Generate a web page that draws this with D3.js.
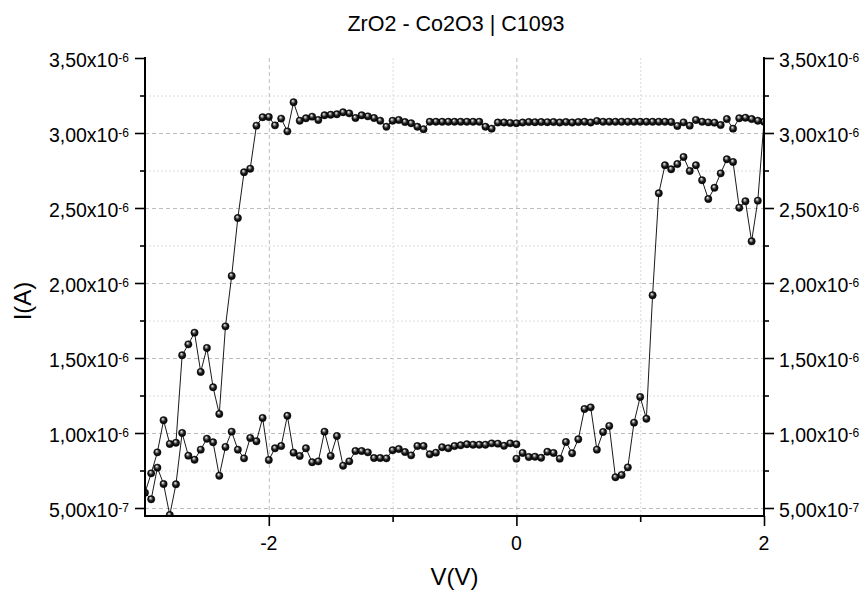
<!DOCTYPE html>
<html>
<head>
<meta charset="utf-8">
<script src="https://cdn.jsdelivr.net/npm/d3@7/dist/d3.min.js"></script>
<style>
  html, body { margin: 0; padding: 0; background: #fff; }
  svg { display: block; font-family: "Liberation Sans", Arial, sans-serif; }
</style>
</head>
<body>
<svg id="chart" width="863" height="590"></svg>
<script>
// ---------------- DATA (current in units of 1e-6 A) ----------------
const titleText = "ZrO2 - Co2O3 | C1093";
const xLabel = "V(V)";
const yLabel = "I(A)";

// Sweep 1: 0 V -> 1.95 V (low-resistance branch rising)
const sweep1V = [0.00,0.05,0.10,0.15,0.20,0.25,0.30,0.35,0.40,0.45,0.50,0.55,0.60,0.65,0.70,0.75,0.80,0.85,0.90,0.95,
                 1.00,1.05,1.10,1.15,1.20,1.25,1.30,1.35,1.40,1.45,1.50,1.55,1.60,1.65,1.70,1.75,1.80,1.85,1.90,1.95];
const sweep1I = [0.829,0.867,0.840,0.842,0.835,0.875,0.867,0.829,0.940,0.865,0.958,1.160,1.171,0.889,1.007,1.047,0.705,0.720,0.771,1.069,
                 1.240,1.095,1.918,2.598,2.785,2.758,2.793,2.840,2.747,2.785,2.685,2.560,2.635,2.731,2.825,2.807,2.502,2.545,2.278,2.549];

// Sweep 2: 2 V -> -3 V (upper branch)
const sweep2V = [2.00,1.95,1.90,1.85,1.80,1.75,1.70,1.65,1.60,1.55,1.50,1.45,1.40,1.35,1.30,1.25,1.20,1.15,1.10,1.05,
                 1.00,0.95,0.90,0.85,0.80,0.75,0.70,0.65,0.60,0.55,0.50,0.45,0.40,0.35,0.30,0.25,0.20,0.15,0.10,0.05,
                 0.00,-0.05,-0.10,-0.15,-0.20,-0.25,-0.30,-0.35,-0.40,-0.45,-0.50,-0.55,-0.60,-0.65,-0.70,-0.75,-0.80,-0.85,-0.90,-0.95,
                 -1.00,-1.05,-1.10,-1.15,-1.20,-1.25,-1.30,-1.35,-1.40,-1.45,-1.50,-1.55,-1.60,-1.65,-1.70,-1.75,-1.80,-1.85,-1.90,-1.95,
                 -2.00,-2.05,-2.10,-2.15,-2.20,-2.25,-2.30,-2.35,-2.40,-2.45,-2.50,-2.55,-2.60,-2.65,-2.70,-2.75,-2.80,-2.85,-2.90,-2.95,-3.00];
const sweep2I = [3.075,3.082,3.093,3.102,3.098,3.029,3.093,3.053,3.069,3.071,3.075,3.087,3.049,3.071,3.047,3.073,3.075,3.075,3.075,3.075,
                 3.075,3.075,3.075,3.075,3.075,3.075,3.075,3.080,3.070,3.075,3.073,3.070,3.073,3.070,3.073,3.072,3.073,3.072,3.073,3.070,
                 3.065,3.067,3.070,3.070,3.029,3.042,3.075,3.075,3.075,3.075,3.075,3.075,3.075,3.075,3.075,3.025,3.042,3.065,3.073,3.087,
                 3.082,3.042,3.082,3.100,3.111,3.118,3.100,3.131,3.138,3.125,3.122,3.118,3.087,3.109,3.098,3.082,3.205,3.011,3.096,3.051,
                 3.107,3.105,3.049,2.762,2.738,2.433,2.047,1.711,1.127,1.305,1.567,1.407,1.669,1.591,1.518,0.935,0.927,1.085,0.871,0.731,0.602];

// Sweep 3: -2.95 V -> 0 V (lower branch)
const sweep3V = [-2.95,-2.90,-2.85,-2.80,-2.75,-2.70,-2.65,-2.60,-2.55,-2.50,-2.45,-2.40,-2.35,-2.30,-2.25,-2.20,-2.15,-2.10,-2.05,-2.00,
                 -1.95,-1.90,-1.85,-1.80,-1.75,-1.70,-1.65,-1.60,-1.55,-1.50,-1.45,-1.40,-1.35,-1.30,-1.25,-1.20,-1.15,-1.10,-1.05,-1.00,
                 -0.95,-0.90,-0.85,-0.80,-0.75,-0.70,-0.65,-0.60,-0.55,-0.50,-0.45,-0.40,-0.35,-0.30,-0.25,-0.20,-0.15,-0.10,-0.05,0.00];
const sweep3I = [0.558,0.769,0.660,0.453,0.658,1.000,0.849,0.822,0.889,0.962,0.938,0.715,0.907,1.009,0.889,0.831,0.967,0.945,1.100,0.820,
                 0.898,0.913,1.115,0.869,0.847,0.898,0.805,0.811,1.009,0.847,0.980,0.782,0.811,0.880,0.880,0.871,0.833,0.833,0.831,0.885,
                 0.893,0.873,0.851,0.913,0.913,0.858,0.869,0.905,0.898,0.913,0.918,0.925,0.922,0.922,0.922,0.931,0.929,0.915,0.931,0.925];

// Axis ticks
const xMajorTicks = [-2, 0, 2];
const xMajorLabels = ["-2", "0", "2"];
const xMinorTicks = [-1, 1];
const yMajorTicks = [0.5, 1.0, 1.5, 2.0, 2.5, 3.0, 3.5];
const yTickMantissa = ["5,00", "1,00", "1,50", "2,00", "2,50", "3,00", "3,50"];
const yTickExponent = ["-7", "-6", "-6", "-6", "-6", "-6", "-6"];
const yMinorTicks = [0.75, 1.25, 1.75, 2.25, 2.75, 3.25];
const xDomain = [-3, 2];
const yDomain = [0.4467, 3.5];

// ---------------- DRAWING ----------------
const svg = d3.select("#chart");
const L = 145, R = 764, T = 58, B = 516;

const x = d3.scaleLinear().domain(xDomain).range([L, R]);
const y = d3.scaleLinear().domain(yDomain).range([B, T]);

const defs = svg.append("defs");
const grad = defs.append("radialGradient").attr("id", "ball")
  .attr("cx", "50%").attr("cy", "50%").attr("r", "55%")
  .attr("fx", "38%").attr("fy", "30%");
grad.append("stop").attr("offset", "0%").attr("stop-color", "#ffffff");
grad.append("stop").attr("offset", "22%").attr("stop-color", "#a0a0a0");
grad.append("stop").attr("offset", "55%").attr("stop-color", "#1a1a1a");
grad.append("stop").attr("offset", "100%").attr("stop-color", "#000000");

defs.append("clipPath").attr("id", "plotclip")
  .append("rect").attr("x", L).attr("y", T - 6).attr("width", R - L).attr("height", B - T + 6);

// Grid lines
const grid = svg.append("g");
grid.selectAll(".hmaj").data(yMajorTicks.filter(v => v < 3.5)).join("line")
  .attr("x1", L).attr("x2", R).attr("y1", d => y(d) + 0.5).attr("y2", d => y(d) + 0.5)
  .attr("stroke", "#bdbdbd").attr("stroke-width", 1).attr("stroke-dasharray", "4,3");
grid.selectAll(".hmin").data(yMinorTicks).join("line")
  .attr("x1", L).attr("x2", R).attr("y1", d => y(d) + 0.5).attr("y2", d => y(d) + 0.5)
  .attr("stroke", "#dcdcdc").attr("stroke-width", 1).attr("stroke-dasharray", "2,2");
grid.selectAll(".vmaj").data(xMajorTicks.filter(v => v > xDomain[0] && v < xDomain[1])).join("line")
  .attr("y1", T).attr("y2", B).attr("x1", d => x(d) + 0.5).attr("x2", d => x(d) + 0.5)
  .attr("stroke", "#bdbdbd").attr("stroke-width", 1).attr("stroke-dasharray", "4,3");
grid.selectAll(".vmin").data(xMinorTicks).join("line")
  .attr("y1", T).attr("y2", B).attr("x1", d => x(d) + 0.5).attr("x2", d => x(d) + 0.5)
  .attr("stroke", "#dcdcdc").attr("stroke-width", 1).attr("stroke-dasharray", "2,2");

// Data
const pts = [];
sweep1V.forEach((v, i) => pts.push({ v, c: sweep1I[i] }));
sweep2V.forEach((v, i) => pts.push({ v, c: sweep2I[i] }));
sweep3V.forEach((v, i) => pts.push({ v, c: sweep3I[i] }));

const plot = svg.append("g").attr("clip-path", "url(#plotclip)");
const line = d3.line().x(d => x(d.v)).y(d => y(d.c));
plot.append("path").datum(pts).attr("d", line)
  .attr("fill", "none").attr("stroke", "#1a1a1a").attr("stroke-width", 1);
plot.selectAll("circle").data(pts).join("circle")
  .attr("cx", d => x(d.v)).attr("cy", d => y(d.c)).attr("r", 3.7)
  .attr("fill", "url(#ball)").attr("stroke", "#000").attr("stroke-width", 0.4);

// Axes
function styleAxis(g) {
  g.select(".domain").remove();
  g.selectAll("line").attr("stroke", "#000").attr("stroke-width", 1.6);
  g.selectAll("text").remove();
}
svg.append("g").attr("transform", `translate(${L},0)`)
  .call(d3.axisLeft(y).tickValues(yMajorTicks).tickSize(10).tickFormat("")).call(styleAxis);
svg.append("g").attr("transform", `translate(${L},0)`)
  .call(d3.axisLeft(y).tickValues(yMinorTicks).tickSize(5).tickFormat("")).call(styleAxis);
svg.append("g").attr("transform", `translate(${R},0)`)
  .call(d3.axisRight(y).tickValues(yMajorTicks).tickSize(10).tickFormat("")).call(styleAxis);
svg.append("g").attr("transform", `translate(${R},0)`)
  .call(d3.axisRight(y).tickValues(yMinorTicks).tickSize(5).tickFormat("")).call(styleAxis);
svg.append("g").attr("transform", `translate(0,${B})`)
  .call(d3.axisBottom(x).tickValues(xMajorTicks).tickSize(10).tickFormat("")).call(styleAxis);
svg.append("g").attr("transform", `translate(0,${B})`)
  .call(d3.axisBottom(x).tickValues(xMinorTicks).tickSize(6).tickFormat("")).call(styleAxis);

// Axis lines
svg.append("line").attr("x1", L).attr("x2", L).attr("y1", T - 1).attr("y2", B + 1)
  .attr("stroke", "#000").attr("stroke-width", 2);
svg.append("line").attr("x1", R).attr("x2", R).attr("y1", T - 1).attr("y2", B + 1)
  .attr("stroke", "#000").attr("stroke-width", 2);
svg.append("line").attr("x1", L - 1).attr("x2", R + 1).attr("y1", B).attr("y2", B)
  .attr("stroke", "#000").attr("stroke-width", 2);

// Y tick labels (left & right)
const fs = 19.5;
function yLabelText(g, anchor, xpos) {
  g.selectAll("text").data(yMajorTicks).join("text")
    .attr("x", xpos).attr("y", d => y(d) + 8.5)
    .attr("text-anchor", anchor).attr("font-size", fs).attr("fill", "#000")
    .each(function (d, i) {
      const t = d3.select(this);
      t.append("tspan").text(yTickMantissa[i] + "x10");
      t.append("tspan").attr("font-size", 12).attr("dy", -5).text(yTickExponent[i]);
    });
}
yLabelText(svg.append("g"), "end", L - 16);
yLabelText(svg.append("g"), "start", R + 15);

// X tick labels
svg.append("g").selectAll("text").data(xMajorTicks).join("text")
  .attr("x", d => x(d)).attr("y", B + 34)
  .attr("text-anchor", "middle").attr("font-size", fs).attr("fill", "#000")
  .text((d, i) => xMajorLabels[i]);

// Axis titles
svg.append("text").attr("x", (L + R) / 2).attr("y", 585)
  .attr("text-anchor", "middle").attr("font-size", 24).attr("fill", "#000").text(xLabel);
svg.append("text").attr("transform", `translate(31,${(T + B) / 2 + 14}) rotate(-90)`)
  .attr("text-anchor", "middle").attr("font-size", 24).attr("fill", "#000").text(yLabel);

// Title
svg.append("text").attr("x", 456).attr("y", 31)
  .attr("text-anchor", "middle").attr("font-size", 21.5).attr("fill", "#000").text(titleText);
</script>
</body>
</html>
